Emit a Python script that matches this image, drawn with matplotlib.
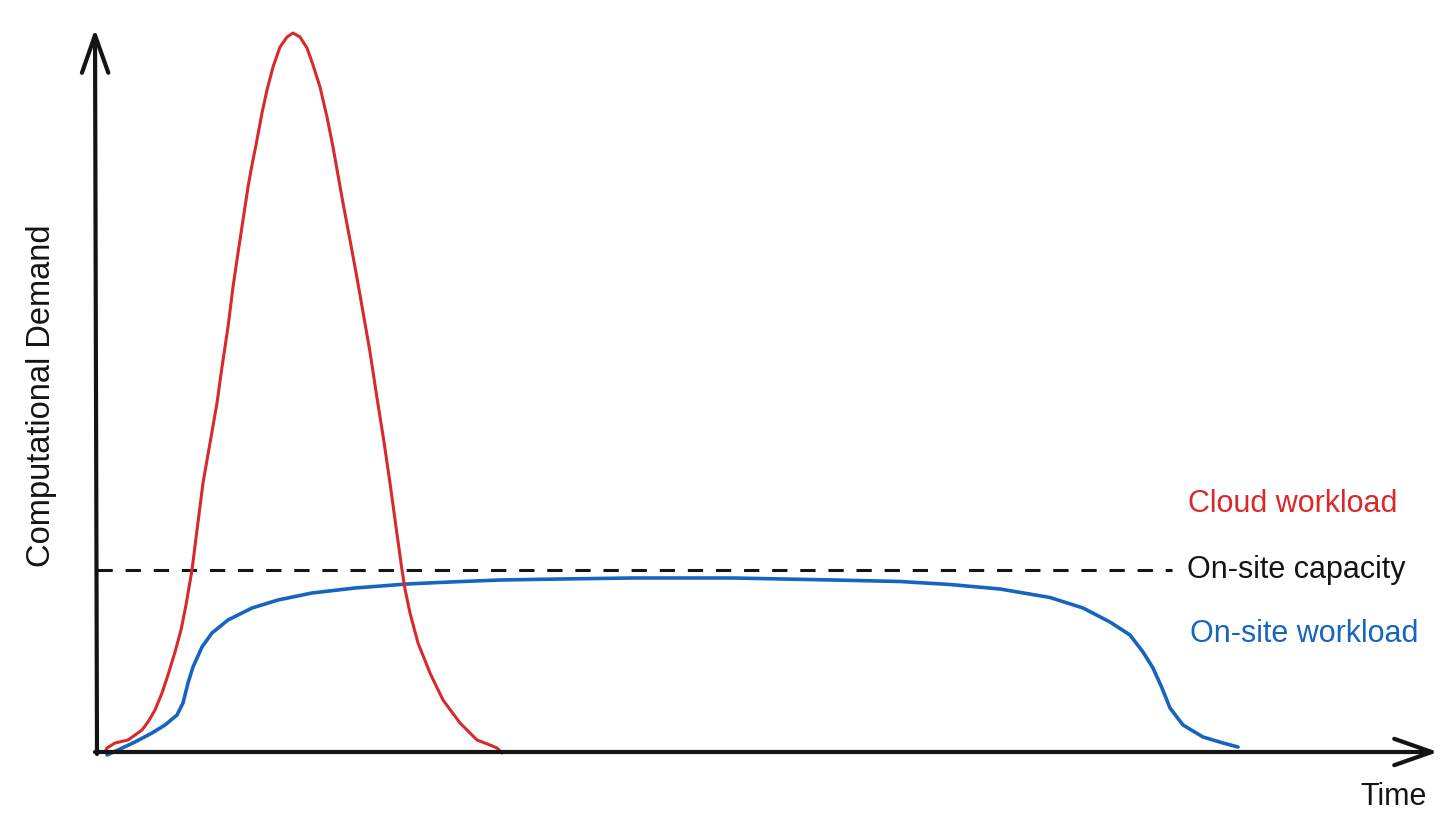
import matplotlib
matplotlib.use("Agg")
import matplotlib.pyplot as plt

plt.rcParams['font.family'] = ['Liberation Sans', 'DejaVu Sans']

# curves (time, demand) in arbitrary units
red_t = [8, 10, 18, 31, 45, 51, 58, 65, 71, 78, 84, 89, 95, 100, 106, 113, 120, 125, 131,
         136, 141, 146, 151, 155, 159, 165, 170, 176, 183, 190, 196, 203, 210, 216, 223,
         230, 236, 241, 246, 253, 260, 266, 273, 280, 287, 293, 299, 305, 308, 313, 321,
         333, 346, 363, 380, 393, 400, 405]
red_d = [0, 4, 9, 12, 22, 30, 42, 59, 77, 100, 122, 147, 182, 222, 269, 309, 349, 385, 425,
         465, 499, 532, 565, 587, 607, 639, 662, 685, 705, 715, 719, 715, 704, 687, 665,
         635, 605, 577, 549, 512, 474, 440, 400, 354, 310, 269, 225, 182, 163, 139, 109,
         79, 52, 29, 12, 7, 4, -1]

blue_t = [10, 21, 38, 55, 68, 80, 86, 91, 96, 105, 115, 131, 155, 181, 215, 258, 310,
          353, 403, 463, 536, 636, 736, 803, 853, 903, 953, 986, 1013, 1033, 1046, 1056,
          1065, 1073, 1086, 1106, 1126, 1141]
blue_d = [-3, 2, 10, 19, 27, 37, 49, 69, 85, 105, 119, 132, 144, 152, 159, 164, 168,
          170, 172, 173, 174, 174, 172, 170.5, 167.5, 163, 154.5, 144, 130, 117, 100, 84,
          64, 44, 27, 15, 9, 5]

capacity = 182
capacity_end = 1075

red = '#D8292B'
blue = '#1565C0'
ink = '#141414'

fig = plt.figure(figsize=(14.56, 8.24), dpi=100)
ax = fig.add_axes([0, 0, 1, 1])
ax.set_xlim(-97, 1359)
ax.set_ylim(-72, 752)
ax.axis('off')

# axes drawn as hand-sketch arrows
arrow = dict(arrowstyle='->,head_length=2.7,head_width=0.95', mutation_scale=10,
             lw=3.0, color=ink, shrinkA=0, shrinkB=0, capstyle='round', joinstyle='round')
ax.annotate('', xy=(-2, 723), xytext=(0, -2), arrowprops=arrow)
ax.annotate('', xy=(1341, 0), xytext=(-2, 0), arrowprops=arrow)

ax.plot([0, capacity_end], [capacity, capacity], color=ink, lw=2.2,
        linestyle=(0, (5.0, 4.2)))
ax.plot(blue_t, blue_d, color=blue, lw=2.6, solid_capstyle='round', solid_joinstyle='round')
ax.plot(red_t, red_d, color=red, lw=2.2, solid_capstyle='round', solid_joinstyle='round')

ax.text(1091, 240, "Cloud workload", color=red, fontsize=22, va='baseline')
ax.text(1090, 174, "On-site capacity", color=ink, fontsize=22, va='baseline')
ax.text(1093, 110, "On-site workload", color=blue, fontsize=22, va='baseline')
ax.text(1263, -53, "Time", color=ink, fontsize=22, va='baseline')
ax.text(-55, 356, "Computational Demand", color=ink, fontsize=23.5, rotation=90,
        ha='center', va='center')

fig.savefig("out.png", dpi=100)
